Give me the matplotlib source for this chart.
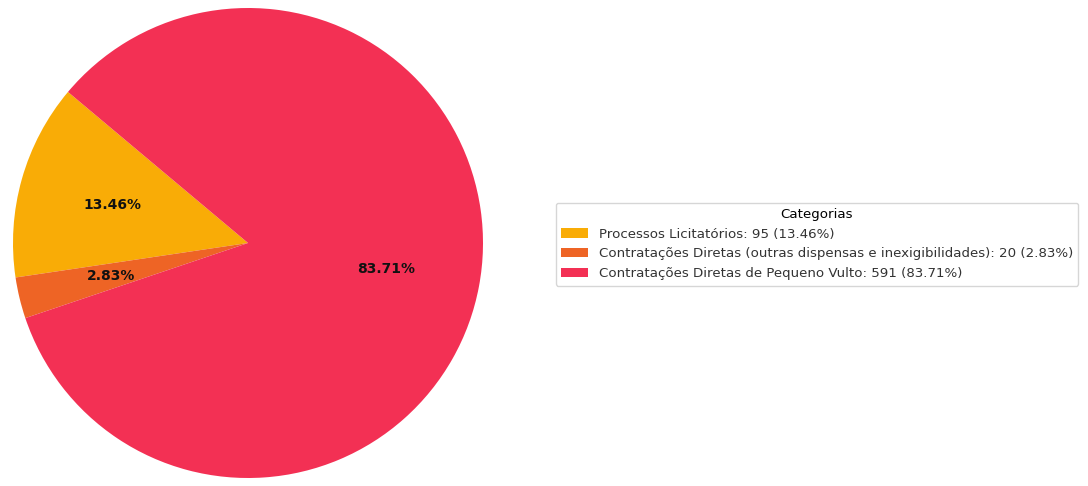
import matplotlib.pyplot as plt

# Dados
categorias = ['Processos Licitatórios',
              'Contratações Diretas (outras dispensas e inexigibilidades)',
              'Contratações Diretas de Pequeno Vulto']
quantidades = [95, 20, 591]
cores = ['#F9AC06', '#EE6425', '#F33054']

total = sum(quantidades)
rotulos_legenda = [f'{c}: {q} ({q / total * 100:.2f}%)' for c, q in zip(categorias, quantidades)]

fig = plt.figure(figsize=(10.88, 4.86), dpi=100)
ax = fig.add_axes([13 / 1088, 8 / 486, 470 / 1088, 470 / 486])

wedges, textos, autotextos = ax.pie(quantidades, colors=cores, autopct='%1.2f%%',
                                    startangle=140, pctdistance=0.6)
for t in autotextos:
    t.set_fontweight('bold')
    t.set_fontsize(10)
    t.set_color('#111111')
ax.set_xlim(-1, 1)
ax.set_ylim(-1, 1)
ax.set_aspect('equal')

fig.legend(wedges, rotulos_legenda, title='Categorias', loc='upper left',
           bbox_to_anchor=(549 / 1088, 1 - 196 / 486), fontsize=9.65, title_fontsize=9.65,
           labelcolor='#333333')

fig.savefig('out.png', dpi=100)
